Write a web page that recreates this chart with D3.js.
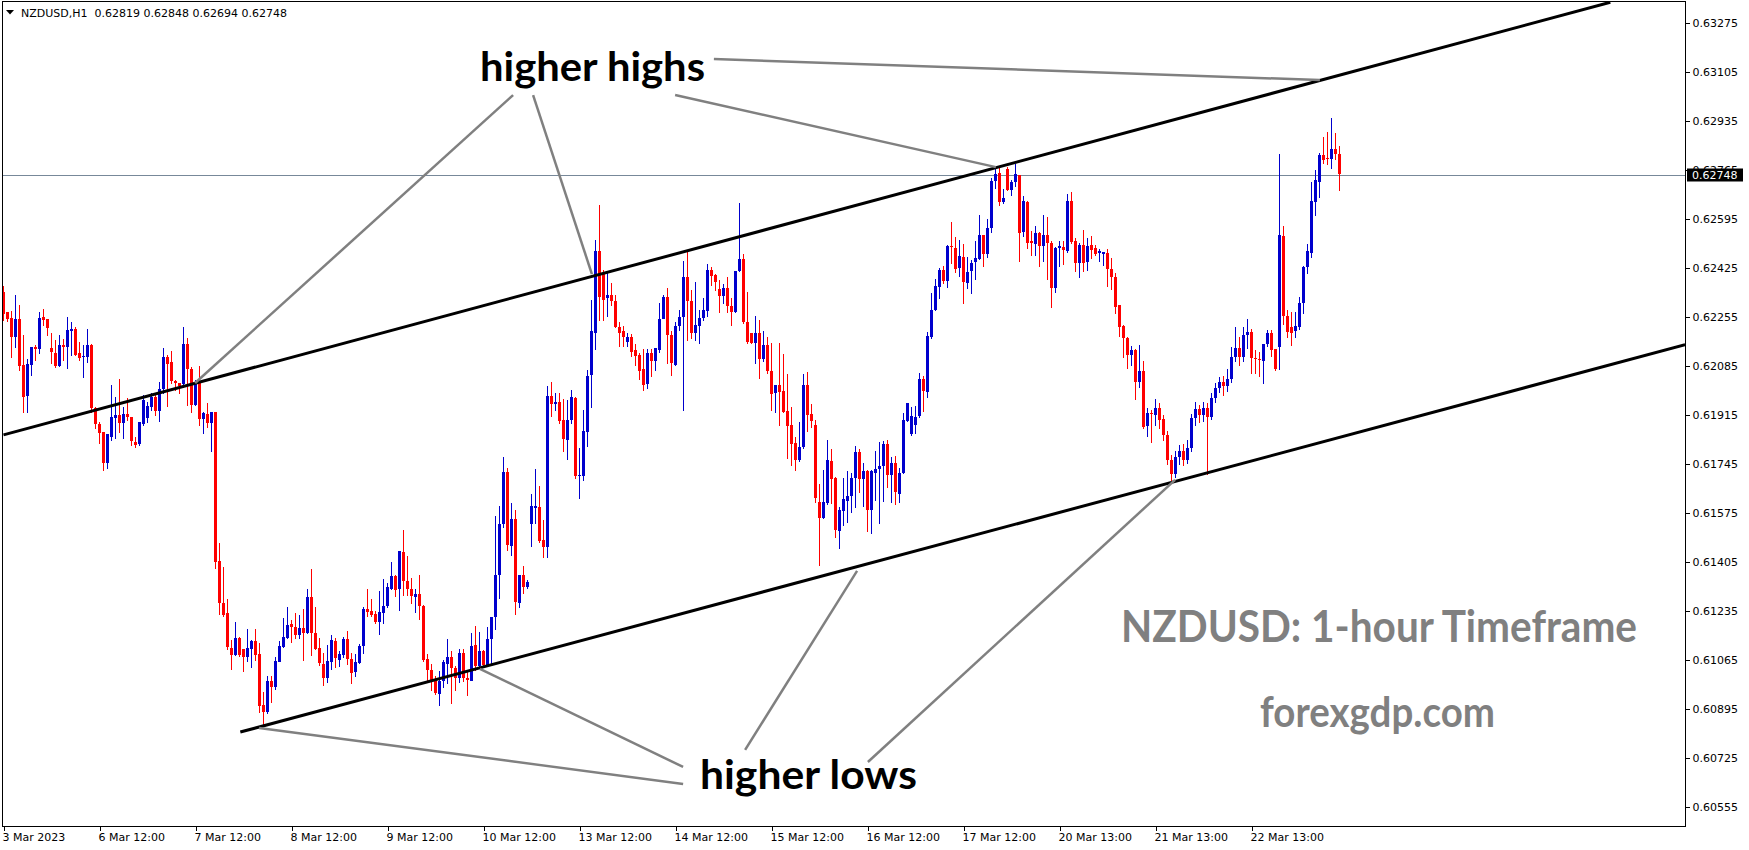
<!DOCTYPE html>
<html><head><meta charset="utf-8">
<script src="https://cdn.jsdelivr.net/npm/d3@7"></script>
<style>
html,body{margin:0;padding:0;background:#fff;}
svg{display:block;}
.axis text{font-family:"DejaVu Sans",sans-serif;font-size:11px;fill:#000;}
.axis line{stroke:#000;}
</style></head><body>
<svg id="chart" width="1749" height="850"></svg>
<script>
// ---------- data ----------
const symbolTitle = "NZDUSD,H1";
const lastOHLC = ["0.62819","0.62848","0.62694","0.62748"];
const currentPrice = 0.62748;

const opens = [
.62343,.62273,.62250,.62184,.62247,.62088,.61981,.62088,.62152,.62144,
.62254,.62248,.62146,.62131,.62085,.62158,.62152,.62206,.62213,.62131,
.62114,.62117,.62158,.61940,.61884,.61857,.61749,.61840,.61906,.61915,
.61888,.61918,.61907,.61821,.61812,.61884,.61906,.61944,.61978,.61929,
.62005,.62117,.62100,.62033,.62025,.62022,.62161,.62073,.61949,.62031,
.61903,.61918,.61888,.61925,.61409,.61262,.61227,.61108,.61083,.61143,
.61102,.61077,.61104,.61132,.61086,.60909,.60883,.60992,.60973,.61060,
.61112,.61143,.61190,.61179,.61152,.61177,.61160,.61285,.61160,.61106,
.61051,.61002,.61060,.61132,.61065,.61083,.61138,.61068,.61023,.61056,
.61114,.61242,.61236,.61224,.61195,.61227,.61250,.61314,.61358,.61309,
.61438,.61340,.61312,.61286,.61294,.61253,.61068,.61031,.60997,.60945,
.60991,.61049,.61075,.61037,.61002,.61089,.61002,.60994,.61118,.61045,
.61097,.61049,.61138,.61214,.61361,.61538,.61717,.61461,.61554,.61265,
.61361,.61317,.61534,.61592,.61595,.61480,.61457,.61982,.61953,.61960,
.61898,.61827,.61896,.61973,.61704,.61704,.61858,.62051,.62201,.62484,
.62407,.62323,.62332,.62312,.62222,.62205,.62170,.62187,.62141,.62124,
.62074,.62023,.62130,.62101,.62141,.62251,.62326,.62193,.62089,.62222,
.62254,.62393,.62309,.62199,.62224,.62251,.62278,.62419,.62401,.62352,
.62328,.62355,.62294,.62274,.62415,.62456,.62236,.62199,.62164,.62199,
.62109,.62158,.62068,.61991,.62020,.61999,.61929,.61880,.61817,.61759,
.61803,.62019,.61919,.61880,.61614,.61559,.61611,.61756,.61695,.61514,
.61583,.61618,.61634,.61695,.61786,.61692,.61719,.61583,.61715,.61727,
.61736,.61814,.61707,.61747,.61643,.61715,.61895,.61849,.61880,.61909,
.62039,.61996,.62187,.62279,.62360,.62418,.62381,.62501,.62496,.62424,
.62462,.62374,.62413,.62444,.62457,.62540,.62474,.62563,.62727,.62754,
.62655,.62768,.62696,.62721,.62748,.62551,.62655,.62517,.62509,.62548,
.62502,.62540,.62513,.62355,.62494,.62497,.62486,.62659,.62520,.62444,
.62505,.62447,.62505,.62494,.62476,.62471,.62476,.62421,.62395,.62297,
.62224,.62182,.62120,.62141,.62028,.62066,.61875,.61921,.61916,.61940,
.61900,.61845,.61760,.61710,.61770,.61790,.61760,.61800,.61905,.61935,
.61915,.61940,.61910,.61975,.62010,.62030,.62015,.62039,.62116,.62147,
.62116,.62193,.62203,.62112,.62109,.62104,.62162,.62201,.62143,.62150,
.62536,.62259,.62220,.62205,.62222,.62301,.62427,.62479,.62652,.62725,
.62817,.62806,.62802,.62837,.62819];

const highs = [
.62362,.62273,.62275,.62331,.62296,.62192,.62108,.62152,.62158,.62272,
.62282,.62248,.62200,.62175,.62192,.62177,.62256,.62238,.62221,.62169,
.62158,.62213,.62161,.61944,.61892,.61857,.61848,.62019,.61978,.62040,
.61944,.61975,.61907,.61840,.61889,.61984,.61961,.61993,.61988,.62030,
.62146,.62123,.62138,.62038,.62027,.62219,.62181,.62082,.62038,.62085,
.61927,.61955,.61925,.61925,.61472,.61387,.61276,.61135,.61196,.61146,
.61102,.61173,.61135,.61173,.61123,.60955,.61010,.61010,.61077,.61131,
.61210,.61248,.61204,.61227,.61221,.61242,.61311,.61381,.61248,.61140,
.61088,.61117,.61152,.61143,.61097,.61146,.61167,.61088,.61085,.61121,
.61250,.61311,.61276,.61236,.61306,.61345,.61331,.61404,.61361,.61444,
.61515,.61427,.61349,.61312,.61361,.61257,.61087,.61052,.61008,.61026,
.61066,.61138,.61097,.61043,.61103,.61103,.61031,.61158,.61184,.61161,
.61101,.61179,.61214,.61565,.61600,.61771,.61731,.61609,.61584,.61361,
.61392,.61341,.61642,.61727,.61669,.61552,.62014,.62028,.61993,.61993,
.61970,.61968,.62002,.61977,.61802,.61933,.62072,.62315,.62523,.62644,
.62419,.62413,.62372,.62332,.62239,.62224,.62199,.62195,.62162,.62130,
.62143,.62143,.62143,.62147,.62303,.62332,.62355,.62205,.62236,.62280,
.62451,.62479,.62347,.62378,.62280,.62320,.62439,.62428,.62405,.62384,
.62370,.62393,.62320,.62415,.62652,.62474,.62343,.62199,.62257,.62243,
.62205,.62187,.62164,.62020,.62164,.62127,.62057,.61944,.61840,.61889,
.62057,.62065,.61953,.61898,.61676,.61724,.61829,.61796,.61701,.61597,
.61695,.61719,.61713,.61808,.61796,.61750,.61724,.61724,.61790,.61820,
.61826,.61828,.61771,.61773,.61730,.61923,.61958,.61944,.61946,.62062,
.62050,.62204,.62337,.62386,.62424,.62432,.62505,.62586,.62531,.62522,
.62510,.62464,.62453,.62520,.62609,.62540,.62594,.62736,.62777,.62771,
.62698,.62777,.62730,.62786,.62748,.62675,.62659,.62555,.62569,.62551,
.62609,.62603,.62517,.62497,.62517,.62517,.62681,.62687,.62528,.62513,
.62557,.62528,.62536,.62505,.62490,.62479,.62490,.62459,.62407,.62297,
.62228,.62185,.62153,.62143,.62158,.62103,.61939,.61933,.61970,.61955,
.61915,.61860,.61775,.61790,.61810,.61815,.61830,.61920,.61960,.61950,
.61960,.61955,.61990,.62025,.62046,.62050,.62075,.62150,.62220,.62187,
.62220,.62247,.62212,.62139,.62132,.62162,.62210,.62210,.62143,.62822,
.62571,.62280,.62274,.62274,.62326,.62432,.62509,.62725,.62765,.62825,
.62881,.62898,.62944,.62895,.62848];

const lows = [
.62244,.62242,.62117,.62152,.62071,.61926,.61926,.62054,.62106,.62131,
.62227,.62192,.62096,.62082,.62085,.62106,.62079,.62123,.62123,.62106,
.62048,.62100,.61926,.61871,.61817,.61724,.61730,.61830,.61834,.61857,
.61834,.61898,.61811,.61805,.61812,.61880,.61892,.61932,.61915,.61894,
.61990,.61946,.62027,.62002,.61990,.62013,.61949,.61926,.61949,.61880,
.61851,.61875,.61791,.61383,.61225,.61216,.61102,.61033,.61083,.61079,
.61028,.61060,.61040,.61065,.60884,.60842,.60880,.60921,.60965,.61060,
.61109,.61140,.61129,.61140,.61140,.61065,.61158,.61083,.61102,.61048,
.60979,.60990,.61034,.61042,.61045,.61077,.61051,.60984,.61008,.61056,
.61091,.61218,.61218,.61192,.61154,.61192,.61248,.61311,.61286,.61237,
.61291,.61291,.61263,.61230,.61207,.61060,.60997,.60960,.60948,.60910,
.60971,.60985,.60916,.60962,.60987,.60991,.60945,.60994,.61031,.61041,
.61043,.61043,.61049,.61172,.61280,.61528,.61445,.61428,.61226,.61249,
.61297,.61315,.61461,.61540,.61473,.61424,.61424,.61910,.61931,.61887,
.61789,.61762,.61887,.61696,.61627,.61690,.61806,.61942,.62143,.62245,
.62245,.62257,.62297,.62219,.62155,.62153,.62153,.62120,.62089,.62039,
.62002,.62008,.62052,.62072,.62135,.62251,.62097,.62054,.62089,.62211,
.61931,.62176,.62182,.62176,.62164,.62245,.62259,.62367,.62349,.62271,
.62303,.62274,.62228,.62274,.62413,.62234,.62164,.62164,.62097,.62043,
.62101,.62060,.61933,.61924,.61881,.61924,.61765,.61742,.61724,.61757,
.61800,.61861,.61874,.61614,.61395,.61559,.61606,.61609,.61491,.61453,
.61534,.61545,.61580,.61597,.61649,.61600,.61511,.61505,.61620,.61539,
.61618,.61664,.61614,.61606,.61614,.61713,.61895,.61846,.61852,.61909,
.61930,.61976,.62181,.62279,.62322,.62372,.62360,.62443,.62412,.62397,
.62305,.62354,.62338,.62386,.62457,.62432,.62462,.62551,.62702,.62644,
.62650,.62694,.62679,.62710,.62451,.62536,.62494,.62471,.62471,.62432,
.62451,.62386,.62288,.62343,.62432,.62439,.62479,.62513,.62416,.62393,
.62413,.62419,.62459,.62471,.62451,.62436,.62361,.62351,.62268,.62190,
.62116,.62078,.62089,.61970,.62012,.61869,.61841,.61823,.61880,.61870,
.61830,.61745,.61690,.61700,.61745,.61740,.61750,.61790,.61880,.61890,
.61895,.61710,.61900,.61960,.61995,.61985,.62000,.62030,.62104,.62089,
.62104,.62147,.62062,.62062,.62051,.62025,.62155,.62118,.62072,.62074,
.62232,.62187,.62158,.62187,.62213,.62268,.62407,.62462,.62609,.62673,
.62791,.62786,.62771,.62802,.62694];

const closes = [
.62267,.62250,.62184,.62247,.62085,.61978,.62092,.62152,.62144,.62252,
.62244,.62218,.62131,.62085,.62158,.62152,.62210,.62213,.62123,.62114,
.62119,.62158,.61938,.61884,.61854,.61749,.61848,.61909,.61915,.61888,
.61918,.61906,.61825,.61812,.61889,.61967,.61946,.61978,.61929,.62005,
.62117,.62094,.62033,.62025,.62013,.62161,.62073,.61949,.62025,.61903,
.61923,.61888,.61925,.61403,.61262,.61221,.61108,.61083,.61143,.61083,
.61074,.61108,.61132,.61083,.60907,.60883,.60992,.60970,.61062,.61114,
.61146,.61187,.61179,.61152,.61177,.61160,.61285,.61160,.61106,.61054,
.61002,.61062,.61135,.61074,.61085,.61137,.61068,.61021,.61058,.61114,
.61242,.61233,.61221,.61195,.61231,.61253,.61317,.61358,.61309,.61442,
.61338,.61311,.61288,.61295,.61251,.61066,.61029,.60997,.60953,.60991,
.61057,.61075,.61037,.61002,.61089,.61002,.60994,.61115,.61045,.61097,
.61049,.61138,.61214,.61361,.61538,.61717,.61465,.61554,.61265,.61361,
.61320,.61335,.61598,.61598,.61476,.61457,.61982,.61953,.61960,.61893,
.61831,.61896,.61977,.61704,.61708,.61860,.62051,.62205,.62484,.62326,
.62315,.62332,.62312,.62222,.62201,.62184,.62187,.62135,.62121,.62069,
.62020,.62130,.62101,.62147,.62247,.62326,.62193,.62095,.62224,.62254,
.62393,.62309,.62197,.62228,.62251,.62278,.62419,.62398,.62375,.62326,
.62355,.62291,.62274,.62415,.62456,.62236,.62166,.62164,.62199,.62109,
.62158,.62068,.61989,.62020,.61997,.61927,.61877,.61815,.61759,.61803,
.62019,.61915,.61895,.61628,.61559,.61614,.61759,.61695,.61514,.61586,
.61623,.61634,.61695,.61786,.61692,.61719,.61583,.61719,.61728,.61738,
.61814,.61707,.61747,.61646,.61715,.61898,.61958,.61913,.61909,.62039,
.61996,.62189,.62281,.62363,.62418,.62381,.62501,.62496,.62424,.62466,
.62374,.62412,.62442,.62459,.62540,.62474,.62563,.62727,.62751,.62655,
.62669,.62696,.62725,.62750,.62548,.62658,.62513,.62509,.62548,.62502,
.62540,.62511,.62357,.62494,.62502,.62486,.62659,.62517,.62444,.62505,
.62444,.62502,.62488,.62473,.62484,.62479,.62419,.62393,.62291,.62222,
.62184,.62124,.62139,.62031,.62066,.61872,.61921,.61916,.61940,.61900,
.61845,.61760,.61710,.61770,.61790,.61760,.61800,.61905,.61935,.61915,
.61940,.61910,.61975,.62010,.62030,.62015,.62040,.62116,.62147,.62116,
.62193,.62203,.62112,.62109,.62104,.62162,.62201,.62143,.62074,.62540,
.62257,.62205,.62199,.62224,.62305,.62427,.62484,.62658,.62730,.62817,
.62798,.62802,.62837,.62821,.62748];

const yTickValues = [0.63275,0.63105,0.62935,0.62765,0.62595,0.62425,0.62255,0.62085,
  0.61915,0.61745,0.61575,0.61405,0.61235,0.61065,0.60895,0.60725,0.60555];
const xTickIndex = [0,24,48,72,96,120,144,168,192,216,240,264,288,312];
const xTickLabels = ["3 Mar 2023","6 Mar 12:00","7 Mar 12:00","8 Mar 12:00","9 Mar 12:00",
  "10 Mar 12:00","13 Mar 12:00","14 Mar 12:00","15 Mar 12:00","16 Mar 12:00",
  "17 Mar 12:00","20 Mar 13:00","21 Mar 13:00","22 Mar 13:00"];

// channel lines: [bar index, price]
const upperChannel = [[0,0.61846],[401.7,0.63347]];
const lowerChannel = [[59.2,0.60815],[420.4,0.62159]];
// annotation pointer lines: [[idx,price],[idx,price]]
const highPointers = [
  [[127.4,0.63025],[47.9,0.62026]],
  [[132.4,0.63025],[147.1,0.62404]],
  [[167.9,0.63025],[248.1,0.62775]],
  [[177.6,0.63150],[329.1,0.63077]]
];
const lowPointers = [
  [[63.9,0.60829],[169.9,0.60635]],
  [[119.1,0.61034],[169.9,0.60694]],
  [[185.4,0.60753],[213.4,0.61374]],
  [[216.1,0.60711],[292.9,0.61690]]
];

// ---------- layout ----------
const W = 1749, H = 850;
const plotL = 2, plotR = 1685, plotT = 1, plotB = 826;
const svg = d3.select("#chart");

const x = d3.scaleLinear().domain([0, 420.375]).range([3.5, 1685]);
const y = d3.scaleLinear().domain([0.60555, 0.63275]).range([807, 23]);

svg.append("rect").attr("width", W).attr("height", H).attr("fill", "#fff");

svg.append("defs").append("clipPath").attr("id", "plotclip")
  .append("rect").attr("x", plotL).attr("y", plotT)
  .attr("width", plotR - plotL).attr("height", plotB - plotT);

const plot = svg.append("g").attr("clip-path", "url(#plotclip)");

// current price line
plot.append("line")
  .attr("x1", plotL).attr("x2", plotR)
  .attr("y1", Math.round(y(currentPrice)) + 0.5).attr("y2", Math.round(y(currentPrice)) + 0.5)
  .attr("stroke", "#778899").attr("stroke-width", 1);

// candles
const candles = d3.range(opens.length).map(i => ({
  i, o: opens[i], h: highs[i], l: lows[i], c: closes[i]
}));
const UP = "#0000CD", DOWN = "#FF0000";
const cg = plot.append("g").attr("shape-rendering", "crispEdges");
cg.selectAll("line.wick").data(candles).join("line")
  .attr("class", "wick")
  .attr("x1", d => x(d.i)).attr("x2", d => x(d.i))
  .attr("y1", d => Math.round(y(d.h))).attr("y2", d => Math.round(y(d.l)) + 1)
  .attr("stroke", d => d.c >= d.o ? UP : DOWN).attr("stroke-width", 1);
cg.selectAll("rect.body").data(candles).join("rect")
  .attr("class", "body")
  .attr("x", d => x(d.i) - 1.5).attr("width", 3)
  .attr("y", d => Math.round(y(Math.max(d.o, d.c))))
  .attr("height", d => Math.max(1, Math.round(Math.abs(y(d.o) - y(d.c)))))
  .attr("fill", d => d.c >= d.o ? UP : DOWN);

// channel lines
const lineGen = d3.line().x(d => x(d[0])).y(d => y(d[1]));
[upperChannel, lowerChannel].forEach(seg => {
  plot.append("path").attr("d", lineGen(seg))
    .attr("fill", "none").attr("stroke", "#000").attr("stroke-width", 3);
});

// annotation pointer lines
highPointers.concat(lowPointers).forEach(seg => {
  plot.append("path").attr("d", lineGen(seg))
    .attr("fill", "none").attr("stroke", "#808080").attr("stroke-width", 2.5);
});

// annotation texts
function bigText(txt, xs, ys, len, size, color) {
  svg.append("text").attr("x", xs).attr("y", ys)
    .attr("font-family", "Lato, 'Open Sans', sans-serif")
    .attr("font-weight", 700).attr("font-size", size)
    .attr("fill", color)
    .attr("textLength", len).attr("lengthAdjust", "spacingAndGlyphs")
    .text(txt);
}
bigText("higher highs", 480, 81, 225, 40, "#000");
bigText("higher lows", 700, 789, 217, 40, "#000");
bigText("NZDUSD: 1-hour Timeframe", 1121, 642, 516, 43, "#808080");
bigText("forexgdp.com", 1260, 727, 235, 42, "#808080");

// axes
const yAxis = d3.axisRight(y).tickValues(yTickValues).tickSize(4).tickSizeOuter(0)
  .tickFormat(d3.format(".5f"));
svg.append("g").attr("class", "axis").attr("transform", `translate(${plotR + 0.5},0)`)
  .call(yAxis).call(g => g.select(".domain").remove())
  .call(g => g.selectAll(".tick line").attr("shape-rendering", "crispEdges"));

const xAxis = d3.axisBottom(x).tickValues(xTickIndex).tickSize(4).tickSizeOuter(0)
  .tickFormat((d, i) => xTickLabels[i]);
svg.append("g").attr("class", "axis").attr("transform", `translate(0,${plotB + 0.5})`)
  .call(xAxis).call(g => g.select(".domain").remove())
  .call(g => g.selectAll(".tick text").attr("text-anchor", "start").attr("x", -1.5))
  .call(g => g.selectAll(".tick line").attr("shape-rendering", "crispEdges"));

// frame
svg.append("rect")
  .attr("x", plotL + 0.5).attr("y", plotT + 0.5)
  .attr("width", plotR - plotL).attr("height", plotB - plotT)
  .attr("fill", "none").attr("stroke", "#000").attr("stroke-width", 1)
  .attr("shape-rendering", "crispEdges");

// current price tag
const cpY = y(currentPrice);
svg.append("rect").attr("x", plotR + 2).attr("y", Math.round(cpY) - 6.5)
  .attr("width", 56).attr("height", 13).attr("fill", "#000");
svg.append("text").attr("x", plotR + 7).attr("y", cpY).attr("dy", "0.36em")
  .attr("font-family", "DejaVu Sans, sans-serif").attr("font-size", 11)
  .attr("fill", "#fff").text(d3.format(".5f")(currentPrice));

// header
svg.append("path").attr("d", "M6,10 L14,10 L10,14.5 Z").attr("fill", "#000");
svg.append("text").attr("x", 21).attr("y", 17)
  .attr("font-family", "DejaVu Sans, sans-serif").attr("font-size", 11)
  .attr("fill", "#000").style("white-space", "pre")
  .text(symbolTitle + "  " + lastOHLC.join(" "));
</script>
</body></html>
